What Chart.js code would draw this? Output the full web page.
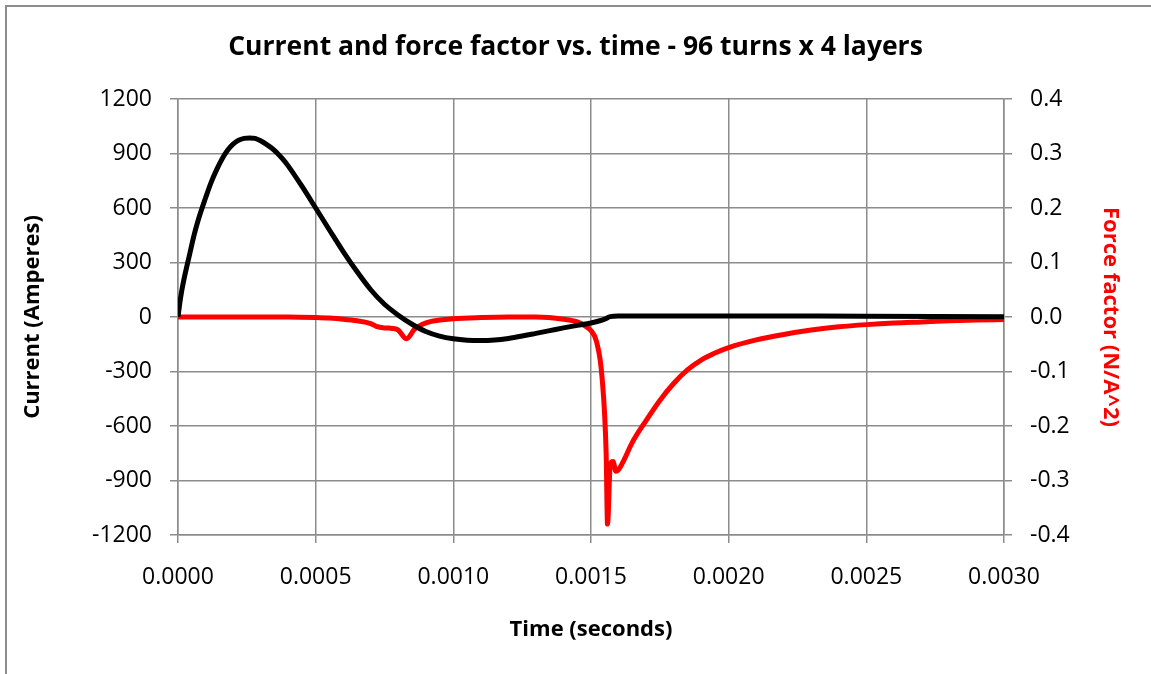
<!DOCTYPE html>
<html>
<head>
<meta charset="utf-8">
<script src="https://cdn.jsdelivr.net/npm/chart.js@4/dist/chart.umd.min.js"></script>
<style>
  html, body { margin: 0; padding: 0; background: #ffffff; }
  #frame { position: absolute; left: 5px; top: 5px; width: 1200px; height: 700px;
           border-left: 2px solid #8c8c8c; border-top: 2px solid #8c8c8c; }
  #wrap { position: absolute; left: 0; top: 0; width: 1151px; height: 674px; }
</style>
</head>
<body>
<div id="frame"></div>
<div id="wrap"><canvas id="c" width="1151" height="674"></canvas></div>
<script>
// ---- data ----
const chartTitle = 'Current and force factor vs. time - 96 turns x 4 layers';

const currentTime = [0, 0.00001, 0.00002, 0.00004, 0.00006, 0.00008, 0.0001, 0.00012, 0.00014, 0.00016,
  0.00018, 0.0002, 0.00022, 0.00024, 0.00026, 0.00028, 0.0003, 0.00032, 0.00034, 0.00036,
  0.00038, 0.0004, 0.00045, 0.0005, 0.00055, 0.0006, 0.00065, 0.0007, 0.00075, 0.0008,
  0.00085, 0.0009, 0.00095, 0.001, 0.00105, 0.0011, 0.00115, 0.0012, 0.00125, 0.0013,
  0.00135, 0.0014, 0.00145, 0.0015, 0.00155, 0.00157, 0.0016, 0.002, 0.0025, 0.003];
const currentAmps = [0, 112, 195, 330, 460, 565, 655, 740, 810, 870,
  918, 952, 973, 983, 986, 983, 970, 952, 930, 903,
  870, 832, 720, 600, 479, 360, 250, 150, 70, 10,
  -40, -80, -105, -120, -128, -130, -127, -118, -105, -90,
  -75, -60, -46, -33, -12, 2, 5, 6, 4, 2];

const forceTime = [0, 0.0004, 0.0005, 0.00055, 0.0006, 0.00065, 0.0007, 0.00072, 0.00075, 0.00078,
  0.0008, 0.00083, 0.00086, 0.00089, 0.00092, 0.00096, 0.001, 0.0011, 0.0012, 0.0013,
  0.0014, 0.00145, 0.00148, 0.0015, 0.00152, 0.00154, 0.001555, 0.00156, 0.00157, 0.00158,
  0.00159, 0.0016, 0.00162, 0.00165, 0.0017, 0.00175, 0.0018, 0.00185, 0.0019, 0.00195,
  0.002, 0.0021, 0.0022, 0.0023, 0.0024, 0.0025, 0.0026, 0.0027, 0.0028, 0.0029, 0.003];
const forceFactor = [0, 0, -0.001, -0.002, -0.004, -0.007, -0.012, -0.017, -0.020, -0.021,
  -0.024, -0.040, -0.022, -0.013, -0.008, -0.005, -0.003, -0.001, 0, 0,
  -0.004, -0.009, -0.017, -0.025, -0.045, -0.11, -0.25, -0.38, -0.27, -0.265,
  -0.283, -0.28, -0.262, -0.23, -0.19, -0.153, -0.122, -0.097, -0.079, -0.066,
  -0.056, -0.042, -0.032, -0.024, -0.018, -0.014, -0.011, -0.009, -0.007, -0.0055, -0.0045];

const xTicks = [0, 0.0005, 0.001, 0.0015, 0.002, 0.0025, 0.003];
const leftTicks = [-1200, -900, -600, -300, 0, 300, 600, 900, 1200];
const rightTicks = [-0.4, -0.3, -0.2, -0.1, 0, 0.1, 0.2, 0.3, 0.4];

// ---- chart ----
const FONT = '"Open Sans", Lato, sans-serif';
const GRID = '#8c8c8c';
const toXY = (xs, ys) => xs.map((x, i) => ({ x: x, y: ys[i] }));

new Chart(document.getElementById('c'), {
  type: 'line',
  data: {
    datasets: [
      { label: 'Current', data: toXY(currentTime, currentAmps), yAxisID: 'y',
        borderColor: '#000000', backgroundColor: '#000000', borderWidth: 5,
        pointRadius: 0, cubicInterpolationMode: 'monotone', fill: false },
      { label: 'Force factor', data: toXY(forceTime, forceFactor), yAxisID: 'y1',
        borderColor: '#ff0000', backgroundColor: '#ff0000', borderWidth: 5,
        pointRadius: 0, cubicInterpolationMode: 'monotone', fill: false }
    ]
  },
  options: {
    responsive: false,
    animation: false,
    layout: { padding: 0 },
    plugins: {
      legend: { display: false },
      tooltip: { enabled: false },
      title: { display: true, text: chartTitle, color: '#000',
        font: { family: FONT, size: 26.5, weight: 'bold', lineHeight: 1.2 },
        padding: { top: 32, bottom: 35.2 } }
    },
    scales: {
      x: {
        type: 'linear', position: 'bottom', min: 0, max: 0.003,
        afterBuildTicks: s => { s.ticks = xTicks.map(v => ({ value: v })); },
        afterFit: s => { s.height = 139; },
        ticks: { color: '#000', padding: 21, maxRotation: 0,
          font: { family: FONT, size: 23, lineHeight: 1.2 },
          callback: v => Number(v).toFixed(4) },
        grid: { color: GRID, lineWidth: 1.5, tickLength: 8, tickColor: GRID },
        border: { color: GRID, width: 1.5 },
        title: { display: true, text: 'Time (seconds)', color: '#000',
          font: { family: FONT, size: 22, weight: 'bold', lineHeight: 1.2 },
          padding: { top: 0, bottom: 31 } }
      },
      y: {
        type: 'linear', position: 'left', min: -1200, max: 1200,
        afterBuildTicks: s => { s.ticks = leftTicks.map(v => ({ value: v })); },
        afterFit: s => { s.width = 178; },
        ticks: { color: '#000', padding: 18,
          font: { family: FONT, size: 23, lineHeight: 1.2 },
          callback: v => String(v) },
        grid: { color: GRID, lineWidth: 1.5, tickLength: 8, tickColor: GRID },
        border: { color: GRID, width: 1.5 },
        title: { display: true, text: 'Current (Amperes)', color: '#000',
          font: { family: FONT, size: 22, weight: 'bold', lineHeight: 1.2 },
          padding: { top: 20, bottom: 0 } }
      },
      y1: {
        type: 'linear', position: 'right', min: -0.4, max: 0.4,
        afterBuildTicks: s => { s.ticks = rightTicks.map(v => ({ value: v })); },
        afterFit: s => { s.width = 147; },
        ticks: { color: '#000', padding: 18,
          font: { family: FONT, size: 23, lineHeight: 1.2 },
          callback: v => Number(v).toFixed(1) },
        grid: { drawOnChartArea: false, color: GRID, lineWidth: 1.5, tickLength: 8, tickColor: GRID },
        border: { color: GRID, width: 1.5 },
        title: { display: true, text: 'Force factor (N/A^2)', color: '#ff0000',
          font: { family: FONT, size: 22, weight: 'bold', lineHeight: 1.2 },
          padding: { top: 28, bottom: 0 } }
      }
    }
  }
});
</script>
</body>
</html>
